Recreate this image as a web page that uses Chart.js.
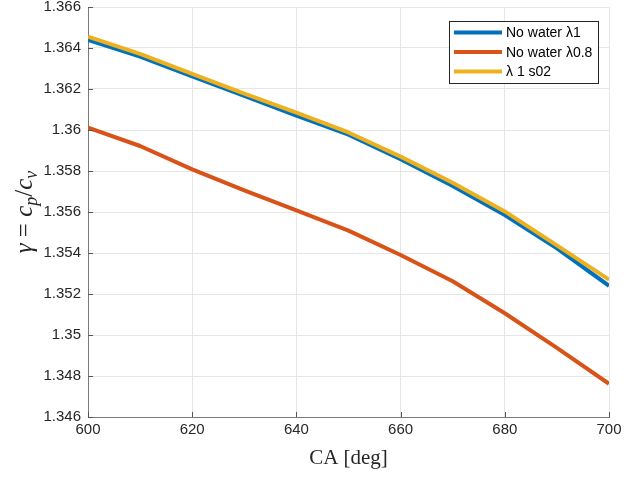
<!DOCTYPE html>
<html>
<head>
<meta charset="utf-8">
<script src="https://cdn.jsdelivr.net/npm/chart.js@4/dist/chart.umd.min.js"></script>
<style>
    html, body { margin: 0; padding: 0; background: #fff; }
    #gamma-chart { display: block; }
</style>
</head>
<body>
<canvas id="gamma-chart" width="624" height="477"></canvas>
<script>
// crank angle [deg] and gamma = cp/cv for each case
const crankAngle = [600, 610, 620, 630, 640, 650, 660, 670, 680, 690, 700];
const noWaterLambda1 = [1.36440, 1.36358, 1.36262, 1.36166, 1.36070, 1.35977, 1.35857, 1.35727, 1.35585, 1.35423, 1.35240];
const noWaterLambda08 = [1.36012, 1.35922, 1.35808, 1.35705, 1.35608, 1.35509, 1.35390, 1.35262, 1.35106, 1.34937, 1.34762];
const lambda1S02 = [1.36455, 1.36371, 1.36274, 1.36178, 1.36085, 1.35988, 1.35870, 1.35743, 1.35603, 1.35437, 1.35270];
const seriesNames = ["No water λ1", "No water λ0.8", "λ 1 s02"];
const xTicks = [600, 620, 640, 660, 680, 700];
const yTicks = [1.346, 1.348, 1.35, 1.352, 1.354, 1.356, 1.358, 1.36, 1.362, 1.364, 1.366];

const TEXT_COLOR = '#262626';
const GRID_COLOR = '#e6e6e6';
const AXIS_COLOR = '#7a7a7a';

function toPoints(ys){
    return ys.map((y, i) => ({x: crankAngle[i], y: y}));
}

// MATLAB style ticks pointing into the axes
const inwardTicks = {
    id: 'inwardTicks',
    afterDatasetsDraw(chart){
        const {ctx, chartArea, scales} = chart;
        ctx.save();
        ctx.strokeStyle = '#555';
        ctx.lineWidth = 1;
        ctx.beginPath();
        for (let v of xTicks){
            const x = Math.round(scales.x.getPixelForValue(v)) + 0.5;
            ctx.moveTo(x, chartArea.bottom);
            ctx.lineTo(x, chartArea.bottom - 5);
        }
        for (let v of yTicks){
            const y = Math.round(scales.y.getPixelForValue(v)) + 0.5;
            ctx.moveTo(chartArea.left, y);
            ctx.lineTo(chartArea.left + 5, y);
        }
        ctx.stroke();
        ctx.restore();
    }
};

// y label drawn like the LaTeX one: gamma = c_p / c_v
const yTitle = {
    id: 'yTitle',
    afterDraw(chart){
        const {ctx, chartArea} = chart;
        const parts = [
            {t: 'γ', f: 'italic 25px "Liberation Serif"', dy: 0},
            {t: ' = ', f: '25px "Liberation Serif"', dy: 0},
            {t: 'c', f: 'italic 25px "Liberation Serif"', dy: 0},
            {t: 'p', f: 'italic 18px "Liberation Serif"', dy: 5},
            {t: '/', f: '25px "Liberation Serif"', dy: 0},
            {t: 'c', f: 'italic 25px "Liberation Serif"', dy: 0},
            {t: 'v', f: 'italic 18px "Liberation Serif"', dy: 5}
        ];
        ctx.save();
        let total = 0;
        for (let p of parts){
            ctx.font = p.f;
            p.w = ctx.measureText(p.t).width;
            total += p.w;
        }
        ctx.translate(25, (chartArea.top + chartArea.bottom) / 2);
        ctx.rotate(-Math.PI / 2);
        ctx.fillStyle = TEXT_COLOR;
        ctx.textBaseline = 'alphabetic';
        let x = -total / 2;
        for (let p of parts){
            ctx.font = p.f;
            ctx.fillText(p.t, x, 7 + p.dy);
            x += p.w;
        }
        ctx.restore();
    }
};

// boxed legend in the upper right corner of the axes
const legendBox = {
    id: 'legendBox',
    afterDraw(chart){
        const {ctx, chartArea} = chart;
        ctx.save();
        ctx.font = '14px "Liberation Sans"';
        const sets = chart.data.datasets;
        const textW = Math.max(...sets.map(d => ctx.measureText(d.label).width));
        const w = Math.round(5 + 48 + 4 + textW + 6);
        const h = 62;
        const right = Math.round(chartArea.right - 11);
        const top = Math.round(chartArea.top + 14);
        const left = right - w;
        ctx.fillStyle = '#fff';
        ctx.fillRect(left, top, w, h);
        ctx.strokeStyle = '#262626';
        ctx.lineWidth = 1;
        ctx.strokeRect(left + 0.5, top + 0.5, w, h);
        sets.forEach((d, i) => {
            const y = top + 11.5 + i * 19.5;
            ctx.strokeStyle = d.borderColor;
            ctx.lineWidth = 4;
            ctx.beginPath();
            ctx.moveTo(left + 5, y);
            ctx.lineTo(left + 53, y);
            ctx.stroke();
            ctx.fillStyle = '#000';
            ctx.textBaseline = 'middle';
            ctx.fillText(d.label, left + 57, y + 1);
        });
        ctx.restore();
    }
};

const data = {
    datasets: [
        {label: seriesNames[0], data: toPoints(noWaterLambda1), borderColor: '#0072BD', order: 2},
        {label: seriesNames[1], data: toPoints(noWaterLambda08), borderColor: '#D95319', order: 1},
        {label: seriesNames[2], data: toPoints(lambda1S02), borderColor: '#EDB120', order: 0}
    ]
};
for (let d of data.datasets){
    d.borderWidth = 4;
    d.pointRadius = 0;
    d.tension = 0;
    d.fill = false;
    d.borderJoinStyle = 'round';
}

const config = {
    type: 'line',
    data: data,
    options: {
        responsive: false,
        animation: false,
        devicePixelRatio: 1,
        layout: {padding: {top: 7, right: 15, left: 0, bottom: 0}},
        plugins: {legend: {display: false}, tooltip: {enabled: false}},
        scales: {
            x: {
                type: 'linear',
                min: 600,
                max: 700,
                afterBuildTicks: s => { s.ticks = xTicks.map(v => ({value: v})); },
                afterFit: s => { s.height = 60; s.paddingLeft = 0; s.paddingRight = 0; },
                grid: {color: GRID_COLOR, drawTicks: false},
                border: {color: AXIS_COLOR},
                ticks: {
                    font: {family: 'Liberation Sans', size: 15},
                    color: TEXT_COLOR,
                    padding: 4,
                    maxRotation: 0
                },
                title: {
                    display: true,
                    text: 'CA [deg]',
                    font: {family: 'Liberation Serif', size: 21},
                    color: TEXT_COLOR,
                    padding: {top: 4, bottom: 6}
                }
            },
            y: {
                min: 1.346,
                max: 1.366,
                afterBuildTicks: s => { s.ticks = yTicks.map(v => ({value: v})); },
                afterFit: s => { s.width = 88; s.paddingTop = 0; s.paddingBottom = 0; },
                grid: {color: GRID_COLOR, drawTicks: false},
                border: {color: AXIS_COLOR},
                ticks: {
                    font: {family: 'Liberation Sans', size: 15},
                    color: TEXT_COLOR,
                    padding: 7,
                    callback: v => String(+Number(v).toFixed(3))
                }
            }
        }
    },
    plugins: [inwardTicks, legendBox, yTitle]
};

new Chart(document.getElementById('gamma-chart'), config);
</script>
</body>
</html>
